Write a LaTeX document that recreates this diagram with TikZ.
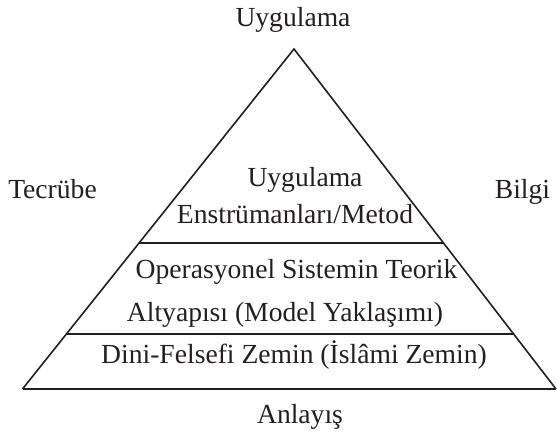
\documentclass[tikz,border=0pt]{standalone}
\usepackage{fontspec}
\setmainfont{Liberation Serif}
\usetikzlibrary{calc}
\definecolor{ink}{HTML}{231F20}
\begin{document}
\begin{tikzpicture}[x=1pt,y=1pt,
  lbl/.style={anchor=base,inner sep=0pt,text=ink,font=\fontsize{27.6}{32}\selectfont},
  side/.style={draw=ink,line width=1.6pt,line join=miter},
  level/.style={draw=ink,line width=2pt}]
\useasboundingbox (0,0) rectangle (557,433);
\coordinate (apex) at (294,384);
\coordinate (bl) at (22.5,44);
\coordinate (br) at (556,44);
\coordinate (ul) at ($(apex)!0.5706!(bl)$);
\coordinate (ur) at ($(apex)!0.5706!(br)$);
\coordinate (ll) at ($(apex)!0.8397!(bl)$);
\coordinate (lr) at ($(apex)!0.8397!(br)$);
\draw[side] (bl) -- (apex) -- (br);
\draw[level,line width=2.4pt] (bl) -- (br);
\draw[level] (ul) -- (ur);
\draw[level] (ll) -- (lr);
\node[lbl] (top) at (293,406.3) {Uygulama};
\node[lbl] (left) at (52.5,234.6) {Tecrübe};
\node[lbl] (right) at (522.5,234.6) {Bilgi};
\node[lbl] (m1) at (305,246.3) {Uygulama};
\node[lbl] (m2) at (295,209) {Enstrümanları/Metod};
\node[lbl] (o1) at (296.5,154) {Operasyonel Sistemin Teorik};
\node[lbl] (o2) at (285,111.3) {Altyapısı (Model Yaklaşımı)};
\node[lbl] (d1) at (294,69.7) {Dini-Felsefi Zemin (İslâmi Zemin)};
\node[lbl] (bottom) at (300,9.7) {Anlayış};
\end{tikzpicture}
\end{document}
